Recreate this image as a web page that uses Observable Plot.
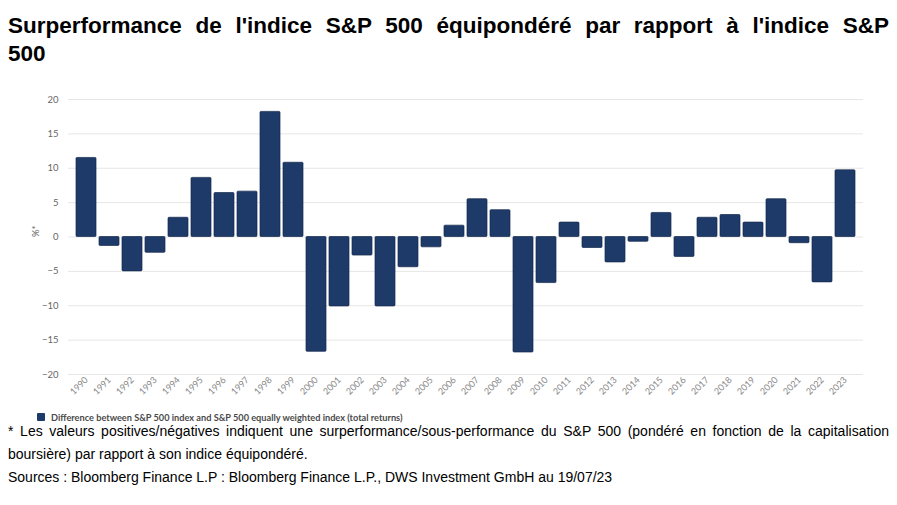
<!DOCTYPE html>
<html><head><meta charset="utf-8">
<script src="https://cdn.jsdelivr.net/npm/d3@7"></script>
<script src="https://cdn.jsdelivr.net/npm/@observablehq/plot@0.6"></script>
<style>
body{margin:0;background:#fff;width:897px;height:505px;position:relative;overflow:hidden;font-family:"Liberation Sans",Arial,sans-serif;}
#title{position:absolute;left:8px;top:12px;width:881px;font-weight:bold;font-size:22.5px;line-height:28px;color:#000;}
#title .l1{text-align:justify;text-align-last:justify;}
#chart{position:absolute;left:0;top:80px;}
#legend{position:absolute;left:37px;top:411px;height:12px;display:flex;align-items:center;font-family:Lato,sans-serif;font-size:9.2px;font-weight:bold;color:#4a4a4a;}
#legend .sw{width:8px;height:8px;background:#1e3a68;margin-right:6px;border-radius:1px}
#note{position:absolute;left:8px;top:420px;width:881px;font-size:14px;line-height:23px;text-align:justify;color:#000;}
#src{position:absolute;left:8px;top:466px;font-size:14px;line-height:23px;color:#000;}
</style></head><body>
<div id="title"><div class="l1">Surperformance de l'indice S&amp;P 500 équipondéré par rapport à l'indice S&amp;P</div><div>500</div></div>
<div id="chart"></div>
<div id="legend"><span class="sw"></span><span id="legtext"></span></div>
<div id="note">* Les valeurs positives/négatives indiquent une surperformance/sous-performance du S&amp;P 500 (pondéré en fonction de la capitalisation boursière) par rapport à son indice équipondéré.</div>
<div id="src">Sources : Bloomberg Finance L.P : Bloomberg Finance L.P., DWS Investment GmbH au 19/07/23</div>
<script>
const years = ["1990","1991","1992","1993","1994","1995","1996","1997","1998","1999","2000","2001","2002","2003","2004","2005","2006","2007","2008","2009","2010","2011","2012","2013","2014","2015","2016","2017","2018","2019","2020","2021","2022","2023"];
const values = [11.5,-1.3,-5.0,-2.3,2.8,8.6,6.4,6.6,18.2,10.8,-16.7,-10.1,-2.7,-10.1,-4.4,-1.5,1.65,5.5,3.9,-16.8,-6.7,2.1,-1.6,-3.7,-0.7,3.5,-2.9,2.8,3.2,2.1,5.5,-0.9,-6.6,9.7];
const yTicks = [-20,-15,-10,-5,0,5,10,15,20];
const seriesName = "Difference between S&P 500 index and S&P 500 equally weighted index (total returns)";
const yLabel = "%*";
const barColor = "#1e3a68";

document.getElementById("legtext").textContent = seriesName;

const data = years.map((y,i)=>({year:y, value:values[i]}));

const chart = Plot.plot({
  width:897, height:320,
  marginLeft:68, marginRight:34, marginTop:19, marginBottom:26,
  style:{fontFamily:"Lato, sans-serif", background:"#fff", color:"#666"},
  x:{domain:years, padding:0.13, label:null},
  y:{domain:[-20,20], label:null},
  marks:[
    Plot.gridY(yTicks,{stroke:"#e6e6e6", strokeOpacity:1, strokeWidth:1}),
    Plot.axisY(yTicks,{tickSize:0, tickPadding:10, fontSize:9.5, label:null}),
    Plot.axisX({tickSize:0, tickPadding:4, tickRotate:-45, fontSize:9, label:null, color:"#888"}),
    Plot.barY(data,{x:"year", y:"value", fill:barColor, stroke:"#15294d", strokeWidth:0.7, rx:1}),
    Plot.text([yLabel],{frameAnchor:"left", dx:-33, rotate:-90, fontSize:9.5, fill:"#666"})
  ]
});
document.getElementById("chart").appendChild(chart);
</script>
</body></html>
